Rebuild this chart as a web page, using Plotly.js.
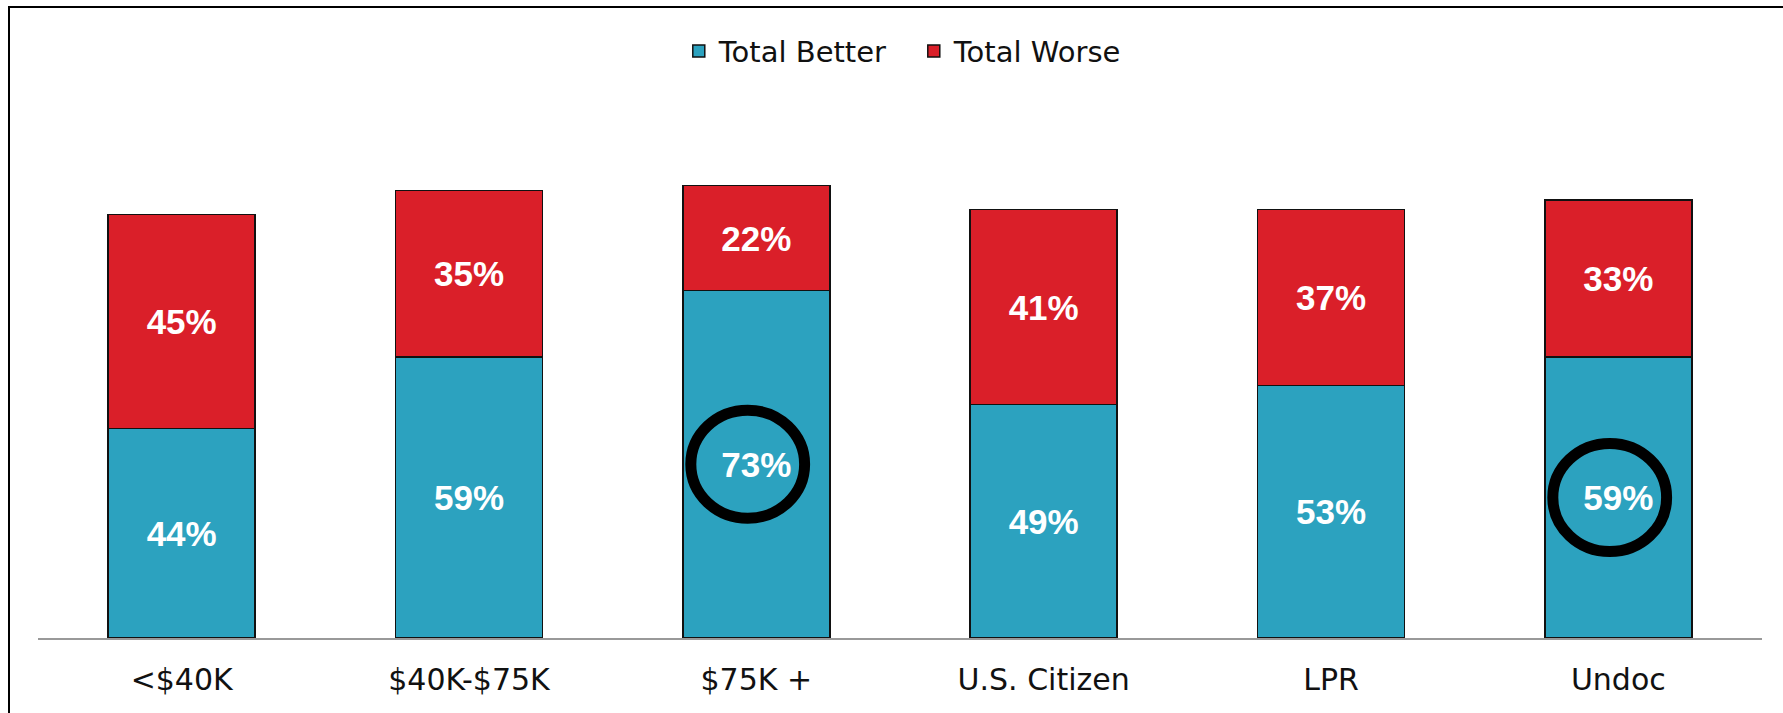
<!DOCTYPE html>
<html>
<head>
<meta charset="utf-8">
<script src="https://cdn.plot.ly/plotly-3.0.1.min.js"></script>
<style>
  html, body { margin: 0; padding: 0; background: #fff; overflow: hidden; }
  #chart { width: 1783px; height: 713px; }
  #frame { position: absolute; left: 8px; top: 6px; width: 1800px; height: 800px;
           border-top: 2.5px solid #000; border-left: 2.5px solid #000; pointer-events: none; }
</style>
</head>
<body>
<div id="chart"></div>
<div id="frame"></div>
<script>
const categories = ["<$40K", "$40K-$75K", "$75K +", "U.S. Citizen", "LPR", "Undoc"];
const totalBetter = [44, 59, 73, 49, 53, 59];
const totalWorse = [45, 35, 22, 41, 37, 33];
const circledIdx = [2, 5];

const blue = "#2ca2bf";
const red = "#da1f29";

const labelFont = { family: "Liberation Sans, Arial, sans-serif", size: 35, color: "#ffffff", weight: "bold" };

const traces = [
  {
    type: "bar", name: "Total Better", x: categories, y: totalBetter,
    marker: { color: blue, line: { color: "#111", width: 1.5 } },
    texttemplate: "<b>%{y}%</b>", textposition: "inside", insidetextanchor: "middle",
    textangle: 0, textfont: labelFont, hoverinfo: "none"
  },
  {
    type: "bar", name: "Total Worse", x: categories, y: totalWorse,
    marker: { color: red, line: { color: "#111", width: 1.5 } },
    texttemplate: "<b>%{y}%</b>", textposition: "inside", insidetextanchor: "middle",
    textangle: 0, textfont: labelFont, hoverinfo: "none"
  }
];

const shapes = circledIdx.map(i => ({
  type: "circle", xref: "x", yref: "y",
  x0: i - 0.03 - 0.198, x1: i - 0.03 + 0.198,
  y0: totalBetter[i] / 2 - 11.35, y1: totalBetter[i] / 2 + 11.35,
  line: { color: "#000", width: 11 }
}));

const layout = {
  width: 1783, height: 713,
  margin: { l: 38, r: 21, t: 100, b: 75, pad: 0 },
  paper_bgcolor: "#ffffff", plot_bgcolor: "#ffffff",
  barmode: "stack", bargap: 0.488,
  showlegend: true,
  legend: {
    orientation: "h", x: 0.508, xanchor: "center", y: 1.091, yanchor: "middle",
    font: { family: "DejaVu Sans, sans-serif", size: 29, color: "#111" },
    traceorder: "normal", entrywidth: 190, entrywidthmode: "pixels"
  },
  xaxis: {
    type: "category", showline: true, linecolor: "#999", linewidth: 2,
    showgrid: false, zeroline: false, ticks: "", ticklabelstandoff: 14,
    tickfont: { family: "DejaVu Sans, sans-serif", size: 30, color: "#111" },
    fixedrange: true
  },
  yaxis: {
    range: [0, 113], visible: false, showgrid: false, zeroline: false, fixedrange: true
  },
  shapes: shapes
};

Plotly.newPlot("chart", traces, layout, { displayModeBar: false, staticPlot: true });
</script>
</body>
</html>
